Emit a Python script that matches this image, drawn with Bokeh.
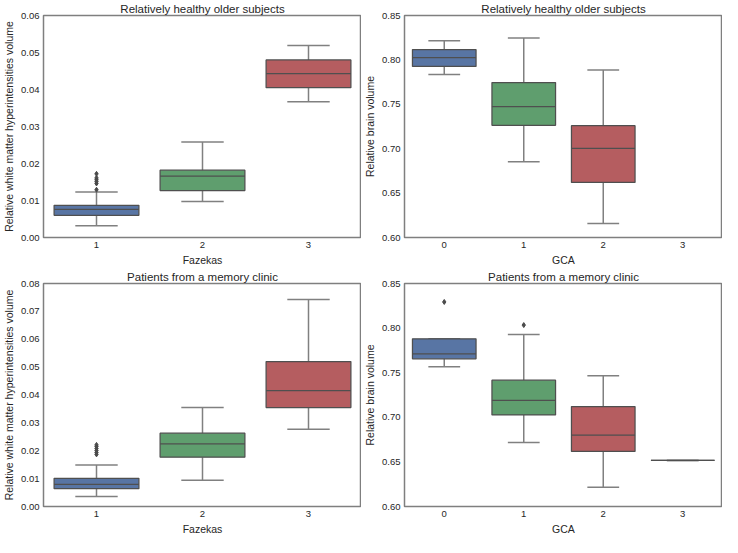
from bokeh.plotting import figure
from bokeh.layouts import gridplot
from bokeh.models import FixedTicker, NumeralTickFormatter, Range1d, ColumnDataSource
from bokeh.transform import dodge
from bokeh.embed import file_html
from bokeh.resources import INLINE

# ---------------- data ----------------
fazekas_labels = ["1", "2", "3"]
gca_labels = ["0", "1", "2", "3"]

# Relatively healthy older subjects - WMH volume by Fazekas
h_wmh_lo = [0.0032, 0.0097, 0.0367]
h_wmh_q1 = [0.0060, 0.0127, 0.0405]
h_wmh_med = [0.0076, 0.0166, 0.0443]
h_wmh_q3 = [0.0087, 0.0182, 0.0480]
h_wmh_hi = [0.0123, 0.0258, 0.0519]
h_wmh_out_cat = [0, 0, 0, 0, 0, 0]
h_wmh_out_val = [0.0129, 0.0146, 0.0151, 0.0156, 0.0161, 0.0172]

# Relatively healthy older subjects - brain volume by GCA (no GCA 3)
h_brain_lo = [0.7836, 0.6854, 0.6157]
h_brain_q1 = [0.7927, 0.7263, 0.6620]
h_brain_med = [0.8026, 0.7474, 0.7004]
h_brain_q3 = [0.8117, 0.7745, 0.7259]
h_brain_hi = [0.8215, 0.8248, 0.7887]
h_brain_out_cat = []
h_brain_out_val = []

# Patients from a memory clinic - WMH volume by Fazekas
m_wmh_lo = [0.0036, 0.0094, 0.0277]
m_wmh_q1 = [0.0064, 0.0177, 0.0355]
m_wmh_med = [0.0079, 0.0225, 0.0416]
m_wmh_q3 = [0.0101, 0.0263, 0.0520]
m_wmh_hi = [0.0149, 0.0355, 0.0743]
m_wmh_out_cat = [0, 0, 0, 0, 0, 0]
m_wmh_out_val = [0.0187, 0.0194, 0.0201, 0.0208, 0.0215, 0.0221]

# Patients from a memory clinic - brain volume by GCA
m_brain_lo = [0.7568, 0.6717, 0.6215, 0.6517]
m_brain_q1 = [0.7655, 0.7026, 0.6617, 0.6517]
m_brain_med = [0.7710, 0.7190, 0.6800, 0.6517]
m_brain_q3 = [0.7880, 0.7416, 0.7120, 0.6517]
m_brain_hi = [0.7880, 0.7929, 0.7466, 0.6517]
m_brain_out_cat = [0, 1]
m_brain_out_val = [0.8293, 0.8034]

wmh_ticks_top = [0.00, 0.01, 0.02, 0.03, 0.04, 0.05, 0.06]
wmh_ticks_bottom = [0.00, 0.01, 0.02, 0.03, 0.04, 0.05, 0.06, 0.07, 0.08]
brain_ticks = [0.60, 0.65, 0.70, 0.75, 0.80, 0.85]

box_colors = ["#5875a4", "#5f9e6e", "#b55d60", "#857aab"]

FONT = "Liberation Sans"
TEXT = "#262626"
EDGE = "#4f4f4f"
WHISK = "#808080"


def panel(title, labels, lo, q1, med, q3, hi, out_cat, out_val,
          y_start, y_end, ticks, x_label, y_label, width, height):
    n = len(labels)
    p = figure(width=width, height=height,
               x_range=Range1d(-0.5, n - 0.5), y_range=Range1d(y_start, y_end),
               output_backend="svg", toolbar_location=None, tools="",
               min_border=0, min_border_left=0, min_border_right=0,
               min_border_top=0, min_border_bottom=2)
    xs = list(range(len(q1)))
    src = ColumnDataSource(dict(x=xs, lo=lo, q1=q1, med=med, q3=q3, hi=hi,
                                color=box_colors[:len(q1)]))
    # whiskers
    p.segment(x0="x", y0="q3", x1="x", y1="hi", source=src,
              line_color=WHISK, line_width=1.5)
    p.segment(x0="x", y0="q1", x1="x", y1="lo", source=src,
              line_color=WHISK, line_width=1.5)
    # caps
    p.segment(x0=dodge("x", -0.2), y0="hi", x1=dodge("x", 0.2), y1="hi",
              source=src, line_color=WHISK, line_width=1.5)
    p.segment(x0=dodge("x", -0.2), y0="lo", x1=dodge("x", 0.2), y1="lo",
              source=src, line_color=WHISK, line_width=1.5)
    # boxes
    p.vbar(x="x", width=0.8, bottom="q1", top="q3", source=src,
           fill_color="color", line_color=EDGE, line_width=1.25)
    # medians
    p.segment(x0=dodge("x", -0.4), y0="med", x1=dodge("x", 0.4), y1="med",
              source=src, line_color=EDGE, line_width=1.25)
    # outliers
    if out_val:
        p.scatter(x=out_cat, y=out_val, marker="diamond", size=5,
                  fill_color="#4a4a4a", line_color="#4a4a4a")

    p.title.text = title
    p.title.align = "center"
    p.title.text_font = FONT
    p.title.text_font_size = "11.5px"
    p.title.text_font_style = "normal"
    p.title.text_color = TEXT
    p.title.standoff = 1

    p.xaxis.ticker = FixedTicker(ticks=list(range(n)))
    p.xaxis.major_label_overrides = {i: lab for i, lab in enumerate(labels)}
    p.yaxis.ticker = FixedTicker(ticks=ticks)
    p.yaxis.formatter = NumeralTickFormatter(format="0.00")
    p.xaxis.axis_label = x_label
    p.yaxis.axis_label = y_label
    for ax in (p.xaxis, p.yaxis):
        ax.axis_line_color = None
        ax.major_tick_line_color = None
        ax.minor_tick_line_color = None
        ax.major_tick_out = 0
        ax.major_tick_in = 0
        ax.minor_tick_out = 0
        ax.major_label_text_font = FONT
        ax.major_label_text_font_size = "9.5px"
        ax.major_label_text_color = TEXT
        ax.axis_label_text_font = FONT
        ax.axis_label_text_font_size = "10.5px"
        ax.axis_label_text_font_style = "normal"
        ax.axis_label_text_color = TEXT
        ax.major_label_standoff = 4
        ax.axis_label_standoff = 3
    p.xgrid.visible = False
    p.ygrid.visible = False
    p.outline_line_color = "#7f7f7f"
    p.outline_line_width = 1.5
    p.background_fill_color = "white"
    p.border_fill_color = "white"
    return p


W = 361
p1 = panel("Relatively healthy older subjects", fazekas_labels,
           h_wmh_lo, h_wmh_q1, h_wmh_med, h_wmh_q3, h_wmh_hi,
           h_wmh_out_cat, h_wmh_out_val, 0.0, 0.06, wmh_ticks_top,
           "Fazekas", "Relative white matter hyperintensities volume", W, 268)
p2 = panel("Relatively healthy older subjects", gca_labels,
           h_brain_lo, h_brain_q1, h_brain_med, h_brain_q3, h_brain_hi,
           h_brain_out_cat, h_brain_out_val, 0.60, 0.85, brain_ticks,
           "GCA", "Relative brain volume", W, 268)
p3 = panel("Patients from a memory clinic", fazekas_labels,
           m_wmh_lo, m_wmh_q1, m_wmh_med, m_wmh_q3, m_wmh_hi,
           m_wmh_out_cat, m_wmh_out_val, 0.0, 0.08, wmh_ticks_bottom,
           "Fazekas", "Relative white matter hyperintensities volume", W, 269)
p4 = panel("Patients from a memory clinic", gca_labels,
           m_brain_lo, m_brain_q1, m_brain_med, m_brain_q3, m_brain_hi,
           m_brain_out_cat, m_brain_out_val, 0.60, 0.85, brain_ticks,
           "GCA", "Relative brain volume", W, 269)

grid = gridplot([[p1, p2], [p3, p4]], toolbar_location=None)

open("out.html", "w").write(file_html(grid, INLINE))
